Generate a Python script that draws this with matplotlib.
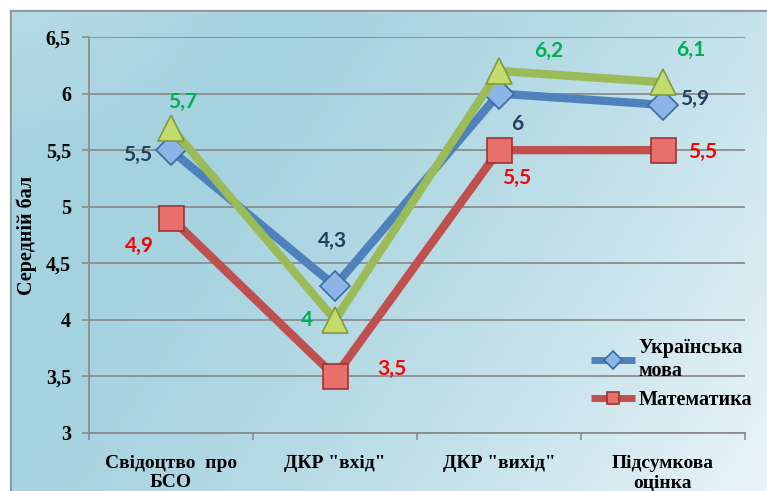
import numpy as np
import matplotlib
matplotlib.use("Agg")
import matplotlib.pyplot as plt
from matplotlib.colors import to_rgb

categories = ['Свідоцтво  про\nБСО', 'ДКР "вхід"', 'ДКР "вихід"', 'Підсумкова\nоцінка']
ukr = [5.5, 4.3, 6.0, 5.9]
math_ = [4.9, 3.5, 5.5, 5.5]
third = [5.7, 4.0, 6.2, 6.1]
yticks = [3, 3.5, 4, 4.5, 5, 5.5, 6, 6.5]
ylabel = 'Середній бал'

def fmt(v):
    s = ('%g' % v)
    return s.replace('.', ',')

W, H = 767, 491
fig = plt.figure(figsize=(W / 100, H / 100), dpi=100)

# background gradient
bg = fig.add_axes([0, 0, 1, 1], zorder=-10)
bg.set_axis_off()
nx, ny = 300, 200
xx, yy = np.meshgrid(np.linspace(0, 1, nx), np.linspace(0, 1, ny))
c_blue = np.array(to_rgb('#a4d2df'))
c_light = np.array(to_rgb('#f4f9fb'))
c_tl = np.array(to_rgb('#c2e1ea'))
t = np.clip((xx * 0.85 + yy * 0.35) - 0.28, 0, 1) ** 1.5
img = c_blue[None, None, :] * (1 - t[..., None]) + c_light[None, None, :] * t[..., None]
tl = np.clip(1 - np.hypot(xx / 0.35, yy / 0.35), 0, 1)[..., None] * 0.6
img = img * (1 - tl) + c_tl[None, None, :] * tl
bg.imshow(img, extent=[0, W, H, 0], aspect='auto', origin='upper')
bg.set_xlim(0, W)
bg.set_ylim(H, 0)
bg.add_patch(plt.Rectangle((0, 0), W, 11, color='white', zorder=2))
bg.add_patch(plt.Rectangle((0, 0), 11, H, color='white', zorder=2))
bg.plot([11, 11], [H + 5, 11], color='#8d9ba1', lw=1.6, zorder=3)
bg.plot([11, W + 5], [11, 11], color='#8d9ba1', lw=1.6, zorder=3)

ax = fig.add_axes([89 / W, 1 - 433 / H, (745 - 89) / W, (433 - 37) / H])
ax.patch.set_alpha(0)
x = np.arange(len(categories))
ax.set_xlim(-0.5, len(categories) - 0.5)
ax.set_ylim(3, 6.5)
ax.set_yticks(yticks)
ax.set_yticklabels([fmt(v) for v in yticks], fontfamily='Liberation Serif',
                   fontweight='bold', fontsize=14.5)
ax.set_xticks(x)
ax.set_xticklabels(categories, fontfamily='Liberation Serif', fontweight='bold',
                   fontsize=14, linespacing=1.15)
ax.tick_params(axis='x', length=0, pad=16)
ax.set_xticks(np.arange(-0.5, len(categories)), minor=True)
ax.tick_params(axis='x', which='minor', length=5, color='#8c8c8c', width=1.2)
ax.tick_params(axis='y', length=5, color='#8c8c8c', width=1.2, pad=8)
ax.grid(axis='y', color='#8c8c8c', lw=1.3)
ax.set_axisbelow(True)
for s in ['top', 'right']:
    ax.spines[s].set_visible(False)
for s in ['left', 'bottom']:
    ax.spines[s].set_color('#8c8c8c')
    ax.spines[s].set_linewidth(1.3)
ax.set_ylabel(ylabel, fontfamily='Liberation Serif', fontweight='bold', fontsize=14.5, labelpad=6)

lw = 6
l1, = ax.plot(x, ukr, color='#4f81bd', lw=lw, marker='D', markersize=15,
              markerfacecolor='#8cb4e6', markeredgecolor='#3c6aa0', markeredgewidth=1.2,
              label='Українська\nмова', zorder=3, solid_capstyle='butt')
l3, = ax.plot(x, third, color='#9bbb59', lw=lw, marker='^', markersize=19,
              markerfacecolor='#c5dc6c', markeredgecolor='#7f9c3c', markeredgewidth=1.2,
              label='_nolegend_', zorder=4, solid_capstyle='butt')
l2, = ax.plot(x, math_, color='#c0504d', lw=lw, marker='s', markersize=18,
              markerfacecolor='#e8706c', markeredgecolor='#9c3532', markeredgewidth=1.2,
              label='Математика', zorder=5, solid_capstyle='butt')

lab_font = dict(fontfamily='Lato', fontweight='bold', fontsize=15)
ukr_off = [(-33, -5), (-2, 45), (18, -30), (32, 6)]
math_off = [(-32, -28), (57, 7), (18, -28), (40, -2)]
third_off = [(12, 26), (-28, 0), (50, 20), (28, 32)]
for vals, offs, col in [(ukr, ukr_off, '#243f60'), (math_, math_off, '#ff0000'),
                        (third, third_off, '#00b050')]:
    for i, v in enumerate(vals):
        ax.annotate(fmt(v), (x[i], v), xytext=offs[i], textcoords='offset pixels',
                    ha='center', va='center', color=col, zorder=10, **lab_font)

leg = ax.legend(handles=[l1, l2], loc='upper left', bbox_to_anchor=(583 / W, 1 - 330 / H),
                bbox_transform=fig.transFigure, frameon=False,
                prop=dict(family='Liberation Serif', weight='bold', size=14.5),
                handlelength=2.2, handletextpad=0.15, labelspacing=0.45, borderaxespad=0)
for h in leg.legend_handles:
    h.set_markersize(9)
    h.set_linewidth(5)

fig.savefig('out.png', dpi=100)
